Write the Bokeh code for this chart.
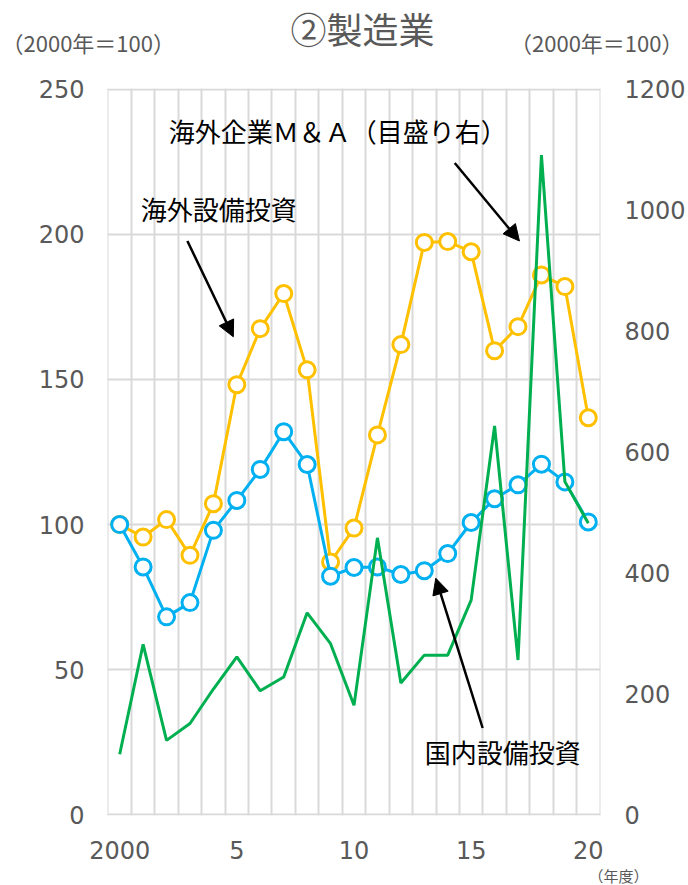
from bokeh.plotting import figure
from bokeh.layouts import column, row
from bokeh.models import (Range1d, LinearAxis, FixedTicker, Label, Arrow, NormalHead, ColumnDataSource)
from bokeh.core.properties import value
from bokeh.embed import file_html
from bokeh.resources import INLINE

# ---- data ----
years = list(range(2000, 2021))
domestic_capex = [100, 85.4, 68.2, 73.1, 98.0, 108.3, 119.0, 132.0, 120.7, 82.2, 85.2,
                  85.4, 82.8, 84.1, 90.0, 100.7, 108.9, 113.7, 120.8, 114.7, 100.9]
overseas_capex = [100, 95.7, 101.7, 89.4, 107.2, 148.2, 167.5, 179.6, 153.3, 87.1, 98.8,
                  130.9, 162.0, 197.2, 197.5, 194.0, 159.9, 168.2, 186.0, 182.0, 136.8]
overseas_ma = [100, 282, 123, 151, 208, 261, 205, 228, 334, 283, 181,
               458, 218, 264, 264, 355, 643, 256, 1091, 551, 482]
left_ticks = [0, 50, 100, 150, 200, 250]
right_ticks = [0, 200, 400, 600, 800, 1000, 1200]
x_tick_years = [2000, 2005, 2010, 2015, 2020]
x_tick_labels = ["2000", "5", "10", "15", "20"]

title_text = "②製造業"
unit_text = "（2000年＝100）"
year_unit = "（年度）"
label_ma = "海外企業Ｍ＆Ａ（目盛り右）"
label_overseas = "海外設備投資"
label_domestic = "国内設備投資"

JP = "Noto Sans CJK JP"
NUM = "DejaVu Sans"
GRAY = "#595959"
W = 688


def blank(h):
    f = figure(width=W, height=h, output_backend="svg", toolbar_location=None,
               x_range=Range1d(0, W), y_range=Range1d(0, h),
               x_axis_location=None, y_axis_location=None,
               frame_width=W, frame_height=h,
               min_border=0, min_border_left=0, min_border_right=0,
               min_border_top=0, min_border_bottom=0)
    f.grid.visible = False
    f.outline_line_color = None
    f.background_fill_color = "white"
    f.border_fill_color = "white"
    return f


# ---- header (title + unit labels) ----
HH = 72
head = blank(HH)
head.text(x=[362], y=[HH - 27], text=[title_text], text_font=value(JP), text_font_size="36px",
          text_color=GRAY, text_align="center", text_baseline="middle")
head.text(x=[1], y=[HH - 41], text=[unit_text], text_font=value(JP), text_font_size="22px",
          text_color=GRAY, text_align="left", text_baseline="middle")
head.text(x=[683], y=[HH - 41], text=[unit_text], text_font=value(JP), text_font_size="22px",
          text_color=GRAY, text_align="right", text_baseline="middle")

# ---- main chart ----
BB = 51
src = ColumnDataSource(dict(year=years, dom=domestic_capex, ovs=overseas_capex, ma=overseas_ma))

p = figure(width=W, height=743 + BB, output_backend="svg", toolbar_location=None,
           x_range=Range1d(1999.48, 2020.52), y_range=Range1d(-0.25, 250.25),
           min_border_left=107, min_border_right=87, min_border_top=16, min_border_bottom=BB)
p.extra_y_ranges = {"right": Range1d(-1.2, 1201.2)}
p.outline_line_color = None
p.background_fill_color = "white"
p.border_fill_color = "white"

p.xgrid.ticker = FixedTicker(ticks=[y - 0.5 for y in years] + [years[-1] + 0.5])
p.ygrid.ticker = FixedTicker(ticks=left_ticks)
for g in (p.xgrid, p.ygrid):
    g.grid_line_color = "#D9D9D9"
    g.grid_line_width = 2

p.xaxis.ticker = FixedTicker(ticks=x_tick_years)
p.xaxis.major_label_overrides = {y: l for y, l in zip(x_tick_years, x_tick_labels)}
p.yaxis.ticker = FixedTicker(ticks=left_ticks)
ra = LinearAxis(y_range_name="right", ticker=FixedTicker(ticks=right_ticks))
p.add_layout(ra, "right")
for ax in (p.xaxis[0], p.yaxis[0], ra):
    ax.axis_line_color = None
    ax.major_tick_line_color = None
    ax.minor_tick_line_color = None
    ax.major_tick_out = 0
    ax.major_tick_in = 0
    ax.major_label_text_color = GRAY
    ax.major_label_text_font = NUM
    ax.major_label_text_font_size = "24px"
p.yaxis[0].major_label_standoff = 23
ra.major_label_standoff = 24
p.xaxis[0].major_label_standoff = 25

p.line("year", "ovs", source=src, line_color="#FFC000", line_width=3)
p.scatter("year", "ovs", source=src, size=16, fill_color="white", line_color="#FFC000", line_width=3)
p.line("year", "dom", source=src, line_color="#00B0F0", line_width=3)
p.scatter("year", "dom", source=src, size=16, fill_color="white", line_color="#00B0F0", line_width=3)
p.line("year", "ma", source=src, y_range_name="right", line_color="#00B050", line_width=3)


def lab(x, y, text):
    p.add_layout(Label(x=x, y=y, text=text, text_font=JP, text_font_size="26px",
                       text_color="black", text_align="left", text_baseline="middle"))


lab(2002.09, 235.9, label_ma)
lab(2000.9, 209.0, label_overseas)
lab(2013.02, 21.7, label_domestic)

for (x0, y0, x1, y1) in [(2014.3, 224.6, 2017.06, 197.7),
                         (2002.89, 197.7, 2004.85, 164.7),
                         (2015.49, 29.9, 2013.49, 81.5)]:
    p.add_layout(Arrow(x_start=x0, y_start=y0, x_end=x1, y_end=y1, line_width=2.5, line_color="black",
                       end=NormalHead(size=16, fill_color="black", line_color="black")))

# ---- footer ----
FH = 885 - HH - (743 + BB)
foot = blank(FH)
foot.text(x=[588], y=[FH / 2 + 0.5], text=[year_unit], text_font=value(JP), text_font_size="15px",
          text_color=GRAY, text_align="left", text_baseline="middle")

layout = column(row(head), p, row(foot), spacing=0)
open("out.html", "w").write(file_html(layout, INLINE))
